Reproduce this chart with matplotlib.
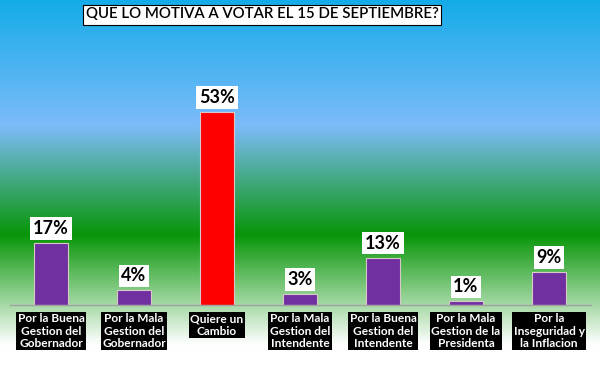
import numpy as np
import matplotlib
matplotlib.use("Agg")
import matplotlib.pyplot as plt
from matplotlib.colors import LinearSegmentedColormap

categories = [
    "Por la Buena\nGestion del\nGobernador",
    "Por la Mala\nGestion del\nGobernador",
    "Quiere un\nCambio",
    "Por la Mala\nGestion del\nIntendente",
    "Por la Buena\nGestion del\nIntendente",
    "Por la Mala\nGestion de la\nPresidenta",
    "Por la\nInseguridad y\nla Inflacion",
]
values = [17, 4, 53, 3, 13, 1, 9]
bar_colors = ["#7030a0", "#7030a0", "#ff0000", "#7030a0", "#7030a0", "#7030a0", "#7030a0"]
title = "QUE LO MOTIVA A VOTAR EL 15 DE SEPTIEMBRE?"

plt.rcParams['font.family'] = ['Lato', 'DejaVu Sans']

W, H = 600, 365
fig = plt.figure(figsize=(W / 100, H / 100), dpi=100)

# background gradient
bg = fig.add_axes([0, 0, 1, 1], zorder=0)
bg.set_axis_off()
stops = [
    (0.0, (20/255, 172/255, 232/255)),
    (125/365, (125/255, 187/255, 250/255)),
    (235/365, (8/255, 150/255, 8/255)),
    (345/365, (1, 1, 1)),
    (1.0, (1, 1, 1)),
]
cmap = LinearSegmentedColormap.from_list("bg", stops)
grad = np.linspace(0, 1, 512).reshape(-1, 1)
bg.imshow(grad, aspect="auto", cmap=cmap, extent=[0, 1, 0, 1], origin="upper")
bg.set_xlim(0, 1)
bg.set_ylim(0, 1)

ax = fig.add_axes([9.5 / W, 60 / H, 581 / W, 218.4 / H], zorder=1)
ax.patch.set_alpha(0)
x = np.arange(len(values))
ax.bar(x, values, width=0.41, color=bar_colors, edgecolor="#d8c8c8", linewidth=0.8, zorder=2)
ax.set_xlim(-0.5, len(values) - 0.5)
ax.set_ylim(0, 60)
for s in ["top", "right", "left"]:
    ax.spines[s].set_visible(False)
ax.spines["bottom"].set_color("#a0a0a0")
ax.spines["bottom"].set_linewidth(1.0)
ax.set_yticks([])
ax.set_xticks(x)
ax.set_xticklabels([])
ax.tick_params(axis="x", length=0)

for xi, v in zip(x, values):
    ax.annotate(f"{v}%", (xi, v), xytext=(0, 10.5), textcoords="offset points",
                ha="center", va="center", fontsize=13, fontweight="bold", color="black",
                bbox=dict(boxstyle="square,pad=0.15", facecolor="white", edgecolor="none"),
                zorder=3)

for xi, lab in zip(x, categories):
    ax.annotate(lab, (xi, 0), xytext=(0, -6), textcoords="offset points",
                ha="center", va="top", fontsize=8.6, fontweight="bold", color="white",
                linespacing=1.15,
                bbox=dict(boxstyle="square,pad=0.12", facecolor="black", edgecolor="none"),
                annotation_clip=False, zorder=3)

fig.text(262 / W, 1 - 14.5 / H, title, ha="center", va="center", fontsize=10.8,
         color="black", fontweight="semibold",
         bbox=dict(boxstyle="square,pad=0.2", facecolor="white", edgecolor="black", linewidth=0.8),
         zorder=5)

fig.savefig("out.png", dpi=100)
